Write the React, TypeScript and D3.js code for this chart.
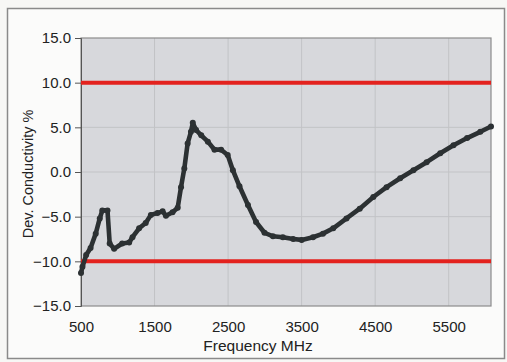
import React, { useEffect, useRef } from "react";
import * as d3 from "d3";

const freq = [500, 520, 570, 630, 700, 755, 790, 860, 890, 950, 1060, 1155, 1200, 1290, 1380, 1450, 1540, 1610, 1655, 1745, 1815, 1860, 1905, 1950, 1995, 2020, 2065, 2135, 2225, 2315, 2405, 2495, 2565, 2655, 2770, 2880, 2995, 3110, 3245, 3385, 3500, 3655, 3790, 3930, 4110, 4290, 4475, 4655, 4840, 5020, 5200, 5385, 5565, 5750, 5930, 6075];
const devCond = [-11.3, -10.6, -9.3, -8.5, -6.9, -5.2, -4.3, -4.3, -8.0, -8.6, -8.0, -7.9, -7.3, -6.3, -5.7, -4.8, -4.6, -4.4, -4.9, -4.5, -4.0, -1.7, 0.4, 3.2, 4.5, 5.5, 4.7, 4.1, 3.4, 2.5, 2.5, 1.9, 0.2, -1.6, -3.7, -5.6, -6.8, -7.2, -7.3, -7.5, -7.6, -7.3, -6.9, -6.3, -5.2, -4.1, -2.8, -1.7, -0.7, 0.2, 1.1, 2.1, 3.0, 3.8, 4.5, 5.1];
const limits = [10, -10];
const xTicks = [500, 1500, 2500, 3500, 4500, 5500];
const yTicks = [15, 10, 5, 0, -5, -10, -15];

const W = 507, H = 362;
const L = 81, R = 491, T = 38, B = 306;

export default function App() {
  const ref = useRef<SVGSVGElement>(null);
  useEffect(() => {
    const svg = d3.select(ref.current);
    svg.selectAll("*").remove();
    const x = d3.scaleLinear().domain([500, 6075]).range([L, R]);
    const y = d3.scaleLinear().domain([-15, 15]).range([B, T]);
    const font = "'Liberation Sans', Arial, sans-serif";
    const txt = "#222";

    svg.append("rect").attr("x", 0).attr("y", 0).attr("width", W).attr("height", H).attr("fill", "#f7f7f5");
    svg.append("rect").attr("x", 7.5).attr("y", 8.5).attr("width", 497).attr("height", 350)
      .attr("fill", "#fbfbfa").attr("stroke", "#8a8a8a").attr("stroke-width", 1.5);

    svg.append("rect").attr("x", L).attr("y", T).attr("width", R - L).attr("height", B - T).attr("fill", "#d7d8dc");

    // gridlines
    svg.append("g").selectAll("line").data(xTicks.slice(1)).join("line")
      .attr("x1", d => x(d)).attr("x2", d => x(d)).attr("y1", T).attr("y2", B)
      .attr("stroke", "#c2c3c6").attr("stroke-width", 1);
    svg.append("g").selectAll("line").data(yTicks.slice(1, -1)).join("line")
      .attr("x1", L).attr("x2", R).attr("y1", d => y(d)).attr("y2", d => y(d))
      .attr("stroke", "#c2c3c6").attr("stroke-width", 1);

    svg.append("rect").attr("x", L).attr("y", T).attr("width", R - L).attr("height", B - T)
      .attr("fill", "none").attr("stroke", "#8c8c8c").attr("stroke-width", 1.2);

    // y axis
    const yAxis = d3.axisLeft(y).tickValues(yTicks).tickSize(6).tickPadding(4).tickFormat(d3.format(".1f"));
    const ga = svg.append("g").attr("transform", `translate(${L},0)`).call(yAxis);
    ga.select(".domain").attr("stroke", "#555");
    ga.selectAll(".tick line").attr("stroke", "#555");
    ga.selectAll("text").attr("font-family", font).attr("font-size", 15).attr("fill", txt);

    // x axis
    const xAxis = d3.axisBottom(x).tickValues(xTicks).tickSize(0).tickPadding(15).tickFormat(d3.format("d"));
    const gx = svg.append("g").attr("transform", `translate(0,${B})`).call(xAxis);
    gx.select(".domain").remove();
    gx.selectAll("text").attr("font-family", font).attr("font-size", 15).attr("fill", txt);

    // limit lines
    svg.append("g").selectAll("line").data(limits).join("line")
      .attr("x1", L).attr("x2", R).attr("y1", d => y(d)).attr("y2", d => y(d))
      .attr("stroke", "#e3221e").attr("stroke-width", 4);

    // data
    const pts = freq.map((f, i) => [f, devCond[i]] as [number, number]);
    const line = d3.line<[number, number]>().x(d => x(d[0])).y(d => y(d[1]));
    svg.append("path").datum(pts).attr("d", line).attr("fill", "none")
      .attr("stroke", "#2c3133").attr("stroke-width", 4.6).attr("stroke-linejoin", "round");
    svg.append("g").selectAll("circle").data(pts).join("circle")
      .attr("cx", d => x(d[0])).attr("cy", d => y(d[1])).attr("r", 3).attr("fill", "#2c3133");

    // titles
    svg.append("text").attr("x", 258).attr("y", 351).attr("text-anchor", "middle")
      .attr("font-family", font).attr("font-size", 15.5).attr("fill", txt).text("Frequency MHz");
    svg.append("text").attr("transform", `translate(33,${(T + B) / 2 + 2}) rotate(-90)`).attr("text-anchor", "middle")
      .attr("font-family", font).attr("font-size", 14.5).attr("fill", txt).text("Dev. Conductivity %");
  }, []);
  return (
    <svg ref={ref} width={W} height={H} style={{ position: "absolute", left: 0, top: 0 }} />
  );
}
